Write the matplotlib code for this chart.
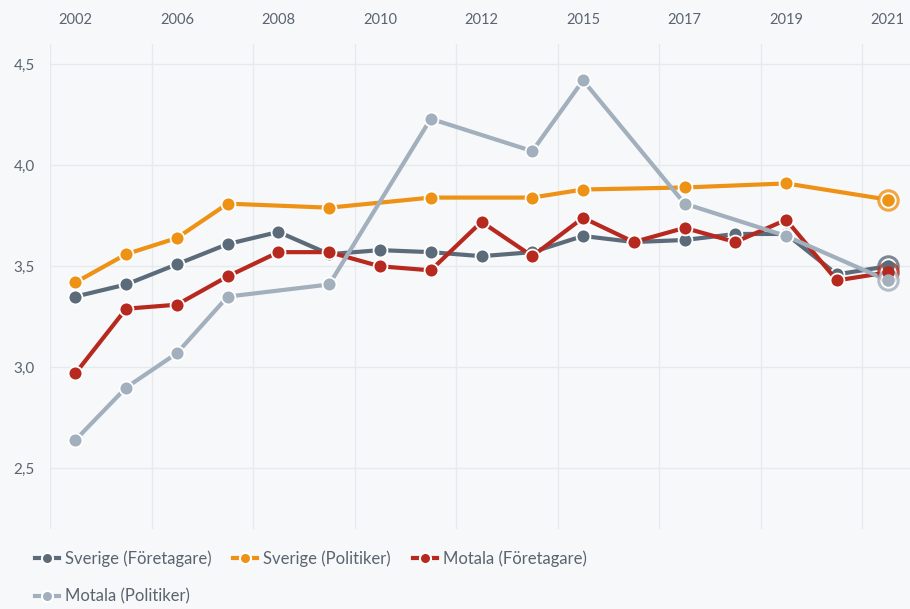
import numpy as np
import matplotlib.pyplot as plt

# --- data ---
years = ["2002", "2004", "2006", "2007", "2008", "2009", "2010", "2011", "2012",
         "2013", "2015", "2016", "2017", "2018", "2019", "2020", "2021"]

sverige_foretagare = [3.35, 3.41, 3.51, 3.61, 3.67, 3.56, 3.58, 3.57, 3.55,
                      3.57, 3.65, 3.62, 3.63, 3.66, 3.66, 3.46, 3.50]
sverige_politiker = [3.42, 3.56, 3.64, 3.81, None, 3.79, None, 3.84, None,
                     3.84, 3.88, None, 3.89, None, 3.91, None, 3.83]
motala_foretagare = [2.97, 3.29, 3.31, 3.45, 3.57, 3.57, 3.50, 3.48, 3.72,
                     3.55, 3.74, 3.62, 3.69, 3.62, 3.73, 3.43, 3.47]
motala_politiker = [2.64, 2.90, 3.07, 3.35, None, 3.41, None, 4.23, None,
                    4.07, 4.42, None, 3.81, None, 3.65, None, 3.43]

names = ["Sverige (Företagare)", "Sverige (Politiker)",
         "Motala (Företagare)", "Motala (Politiker)"]
colors = ["#5c6b7a", "#ee9215", "#b7291f", "#a2afbc"]

BG = "#f7f8fa"
GRID = "#e6e9ee"
TXT = "#5a6470"

plt.rcParams['font.family'] = ['Lato', 'DejaVu Sans']

fig = plt.figure(figsize=(9.1, 6.09), dpi=100, facecolor=BG)
ax = fig.add_axes([50 / 910, 1 - 529 / 609, 860 / 910, 485 / 609], facecolor=BG)

handles = []
for name, vals, c in zip(names, [sverige_foretagare, sverige_politiker,
                                 motala_foretagare, motala_politiker], colors):
    xs = [i for i, v in enumerate(vals) if v is not None]
    ys = [v for v in vals if v is not None]
    h, = ax.plot(xs, ys, color=c, lw=3, marker='o', ms=10, mfc=c, mec='white',
                 mew=1.3, solid_capstyle='round', zorder=3, label=name)
    handles.append(h)
    # highlighted last point
    ax.plot(xs[-1], ys[-1], marker='o', ms=14, mfc='white', mec=c, mew=2.2,
            alpha=0.8, zorder=4)
    ax.plot(xs[-1], ys[-1], marker='o', ms=9, mfc=c, mec='white', mew=0,
            zorder=5)

ax.set_xlim(-0.5, 16.44)
ax.set_ylim(2.2, 4.6)

ax.xaxis.tick_top()
ax.set_xticks(range(0, len(years), 2))
ax.set_xticklabels(years[::2])
ax.set_xticks(np.arange(-0.5, len(years), 2), minor=True)
ax.tick_params(axis='x', which='both', length=0, pad=12.5, labelsize=10.5, labelcolor=TXT)

yt = [2.5, 3.0, 3.5, 4.0, 4.5]
ax.set_yticks(yt)
ax.set_yticklabels([f"{v:.1f}".replace('.', ',') for v in yt])
ax.tick_params(axis='y', length=0, pad=11, labelsize=11, labelcolor=TXT)

ax.grid(which='major', axis='y', color=GRID, lw=1)
ax.grid(which='minor', axis='x', color=GRID, lw=1)
ax.set_axisbelow(True)
for s in ax.spines.values():
    s.set_visible(False)

# legend below the plot, row order: SF, SP, MF / MP
order = [0, 3, 1, 2]
leg_handles = []
for i in order:
    lh, = plt.plot([], [], color=colors[i], lw=3, marker='o', ms=8, mfc=colors[i],
                   mec='white', mew=1.5)
    leg_handles.append(lh)
fig.legend(leg_handles, [names[i] for i in order],
           ncol=3, loc='upper left', bbox_to_anchor=(35 / 910, 1 - 550 / 609),
           frameon=False, borderpad=0, borderaxespad=0,
           prop={'size': 12}, handlelength=1.45, handletextpad=0.35,
           columnspacing=1.3, labelspacing=1.3, labelcolor=TXT)

fig.savefig('out.png', dpi=100, facecolor=BG)
